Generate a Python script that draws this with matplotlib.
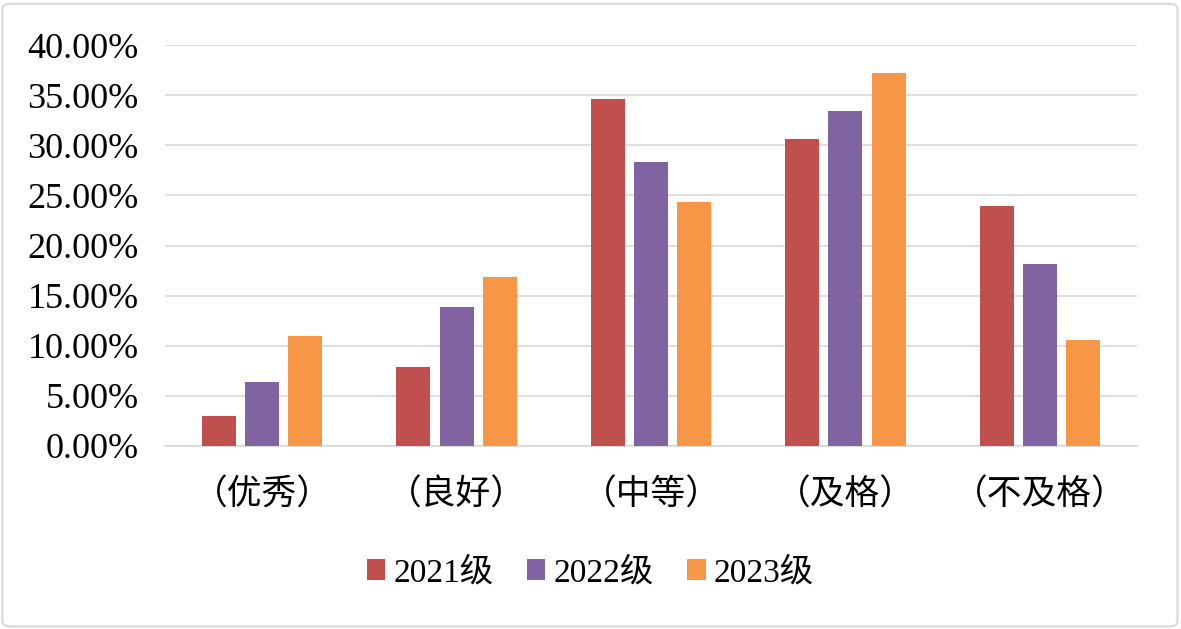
import matplotlib.pyplot as plt
import numpy as np
from matplotlib.patches import FancyBboxPatch

plt.rcParams['font.family'] = ['Liberation Serif', 'Noto Sans CJK SC']

categories = ["（优秀）", "（良好）", "（中等）", "（及格）", "（不及格）"]
series_names = ["2021级", "2022级", "2023级"]
v2021 = [3.0, 7.9, 34.6, 30.6, 23.9]
v2022 = [6.4, 13.9, 28.3, 33.4, 18.2]
v2023 = [11.0, 16.9, 24.3, 37.2, 10.6]
colors = ["#C0504D", "#8064A2", "#F79646"]

fig = plt.figure(figsize=(11.81, 6.29), dpi=100)
ax = fig.add_axes([165 / 1181, 1 - 446 / 629, (1137 - 165) / 1181, (446 - 45) / 629])

x = np.arange(len(categories))
w = 0.175
off = 0.222
for i, (vals, name, c) in enumerate(zip([v2021, v2022, v2023], series_names, colors)):
    ax.bar(x + (i - 1) * off, vals, w, color=c, label=name, zorder=3)

ax.set_ylim(0, 40)
ax.set_xlim(-0.5, len(categories) - 0.5)
ax.set_yticks(np.arange(0, 41, 5))
ax.set_yticklabels([f"{t:.2f}%" for t in np.arange(0, 41, 5)], fontsize=26)
ax.set_xticks(x)
ax.set_xticklabels(categories, fontsize=25)
ax.tick_params(axis='both', length=0)
ax.tick_params(axis='x', pad=24)
ax.tick_params(axis='y', pad=19)
ax.grid(axis='y', color='#D9D9D9', linewidth=1.2, zorder=0)
for s in ['top', 'right', 'left']:
    ax.spines[s].set_visible(False)
ax.spines['bottom'].set_color('#D9D9D9')
ax.spines['bottom'].set_linewidth(1.2)

fig.legend(loc='center', bbox_to_anchor=(0.5, 1 - 573 / 629), ncol=3, frameon=False,
           fontsize=24, handlelength=0.55, handleheight=0.55, columnspacing=1.0, handletextpad=0.25)

border = FancyBboxPatch((0.002, 0.004), 0.995, 0.99, boxstyle="round,pad=0,rounding_size=0.008",
                        transform=fig.transFigure, fill=False, edgecolor='#D9D9D9', linewidth=1.5)
fig.patches.append(border)

fig.savefig("out.png", dpi=100)
